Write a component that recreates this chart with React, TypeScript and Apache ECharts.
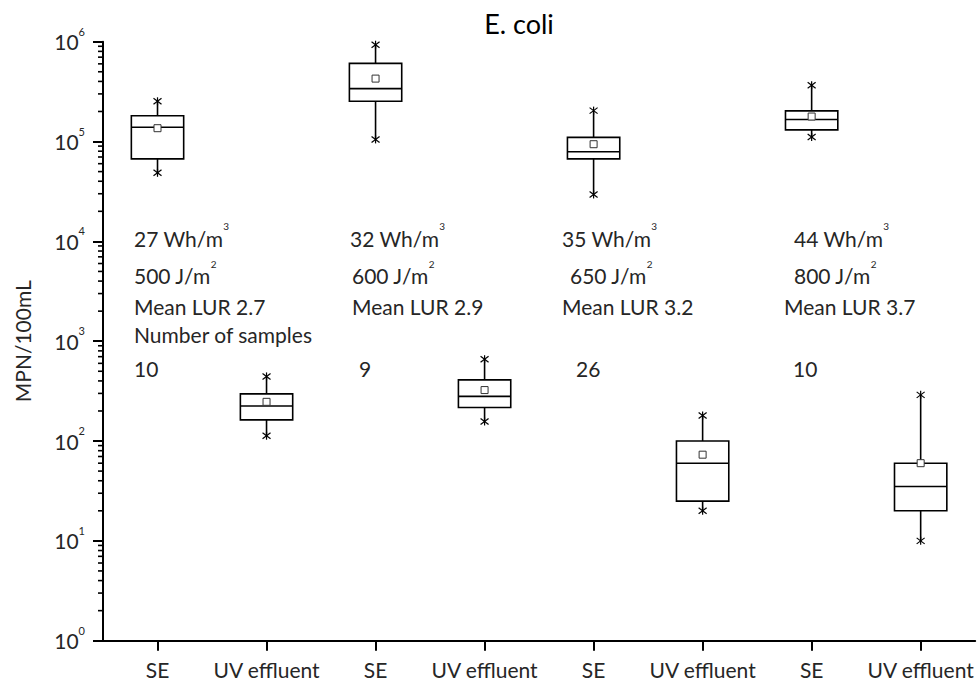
import React, { useEffect, useRef } from 'react';
import * as echarts from 'echarts';

// ---------- data ----------
const categories = ['SE', 'UV effluent', 'SE', 'UV effluent', 'SE', 'UV effluent', 'SE', 'UV effluent'];
const lowerValues = [48600, 113, 105000, 157, 29500, 20, 111000, 10];
const q1Values = [67000, 163, 253000, 217, 67000, 25, 131000, 20];
const medianValues = [139000, 224, 339000, 280, 79000, 60, 166000, 35];
const q3Values = [181000, 297, 607000, 410, 110000, 100, 203000, 60];
const upperValues = [253000, 444, 933000, 660, 204000, 180, 366000, 290];
const meanValues = [136000, 247, 427000, 324, 94000, 73, 178000, 60];

const energyLabels = ['27', '32', '35', '44'];
const doseLabels = ['500', '600', '650', '800'];
const lurLabels = ['2.7', '2.9', '3.2', '3.7'];
const sampleCounts = ['10', '9', '26', '10'];

// minor tick positions of the log axis (2..9 × 10^k)
const minorTickMantissas = [2, 3, 4, 5, 6, 7, 8, 9];
const minorTickDecades = [1, 10, 100, 1000, 10000, 100000];

// ---------- layout ----------
const FONT = 'Lato, "Open Sans", sans-serif';
const TEXT_COLOR = '#262626';
const ANNO_SIZE = 21;
const row1X = [134, 350, 562, 794];
const row2X = [134, 352, 570, 794];
const row3X = [134, 352, 562, 784];
const row5X = [134, 359, 576, 793];
const rowY = [238, 275.5, 306, 334.5, 368];

const supRich = (size: number) => ({
  m: { fontSize: size, fontFamily: FONT, fontWeight: 400, fill: TEXT_COLOR, lineHeight: 34 },
  s: { fontSize: 10, fontFamily: FONT, fontWeight: 400, fill: TEXT_COLOR, lineHeight: 12, verticalAlign: 'top' },
});

function annoText(x: number, y: number, text: string) {
  return {
    type: 'text',
    x,
    y,
    silent: true,
    style: {
      text,
      rich: supRich(ANNO_SIZE),
      fontSize: ANNO_SIZE,
      fontFamily: FONT,
      fill: TEXT_COLOR,
      align: 'left',
      verticalAlign: 'middle',
    },
  };
}

export default function App() {
  const ref = useRef<HTMLDivElement>(null);

  useEffect(() => {
    if (!ref.current) return;
    const chart = echarts.init(ref.current, undefined, { renderer: 'svg' });

    const boxData = categories.map((_, i) => [
      i,
      lowerValues[i],
      q1Values[i],
      medianValues[i],
      q3Values[i],
      upperValues[i],
      meanValues[i],
    ]);

    const minorTickData: number[][] = [];
    minorTickDecades.forEach((d) => minorTickMantissas.forEach((m) => minorTickData.push([0, m * d])));

    const graphics: any[] = [];
    graphics.push({
      type: 'text',
      x: 519,
      y: 23,
      silent: true,
      style: {
        text: 'E. coli',
        fontSize: 27,
        fontFamily: FONT,
        fill: '#000',
        align: 'center',
        verticalAlign: 'middle',
      },
    });
    for (let c = 0; c < 4; c++) {
      graphics.push(annoText(row1X[c], rowY[0], `{m|${energyLabels[c]} Wh/m}{s|3}`));
      graphics.push(annoText(row2X[c], rowY[1], `{m|${doseLabels[c]} J/m}{s|2}`));
      graphics.push(annoText(row3X[c], rowY[2], `{m|Mean LUR ${lurLabels[c]}}`));
      graphics.push(annoText(row5X[c], rowY[4], `{m|${sampleCounts[c]}}`));
    }
    graphics.push(annoText(row1X[0], rowY[3], '{m|Number of samples}'));

    const option: any = {
      animation: false,
      backgroundColor: '#fff',
      grid: { left: 103, right: 0, top: 41.7, bottom: 41.3, containLabel: false },
      xAxis: {
        type: 'category',
        data: categories,
        boundaryGap: true,
        axisLine: { show: true, lineStyle: { color: '#000', width: 2 } },
        axisTick: { show: true, alignWithLabel: true, interval: 0, length: 10, lineStyle: { color: '#000', width: 2 } },
        axisLabel: { interval: 0, color: TEXT_COLOR, fontSize: 21, fontFamily: FONT, margin: 18 },
        splitLine: { show: false },
      },
      yAxis: {
        type: 'log',
        logBase: 10,
        min: 1,
        max: 1000000,
        splitNumber: 6,
        name: 'MPN/100mL',
        nameLocation: 'middle',
        nameGap: 70,
        nameRotate: 90,
        nameTextStyle: { color: TEXT_COLOR, fontSize: 21, fontFamily: FONT },
        axisLine: { show: true, onZero: false, lineStyle: { color: '#000', width: 2 } },
        axisTick: { show: true, inside: false, length: 10, lineStyle: { color: '#000', width: 2 } },
        minorTick: { show: false },
        splitLine: { show: false },
        axisLabel: {
          margin: 18,
          formatter: (v: number) => `{b|10}{s|${Math.round(Math.log10(v))}}`,
          rich: {
            b: { color: TEXT_COLOR, fontSize: 21, fontFamily: FONT, lineHeight: 32 },
            s: { color: TEXT_COLOR, fontSize: 11, fontFamily: FONT, lineHeight: 12, verticalAlign: 'top' },
          },
        },
      },
      graphic: graphics,
      series: [
        {
          type: 'custom',
          name: 'minor ticks',
          silent: true,
          clip: false,
          z: 10,
          data: minorTickData,
          encode: { x: 0, y: 1 },
          renderItem: (params: any, api: any) => {
            const p = api.coord([api.value(0), api.value(1)]);
            const band = params.coordSys.width / categories.length;
            const x0 = p[0] - band / 2;
            return {
              type: 'line',
              shape: { x1: x0 - 5, y1: p[1], x2: x0, y2: p[1] },
              style: { stroke: '#000', lineWidth: 1.6 },
            };
          },
        },
        {
          type: 'custom',
          name: 'E. coli',
          silent: true,
          clip: false,
          data: boxData,
          encode: { x: 0, y: [1, 2, 3, 4, 5, 6] },
          renderItem: (params: any, api: any) => {
            const idx = api.value(0);
            const lo = api.coord([idx, api.value(1)]);
            const q1 = api.coord([idx, api.value(2)]);
            const med = api.coord([idx, api.value(3)]);
            const q3 = api.coord([idx, api.value(4)]);
            const hi = api.coord([idx, api.value(5)]);
            const mean = api.coord([idx, api.value(6)]);
            const cx = lo[0];
            const band = params.coordSys.width / categories.length;
            const bw = band * 0.48;
            const ls = { stroke: '#000', lineWidth: 1.6, fill: 'none' };
            const star = (y: number) => {
              const h = 4;
              return [
                { type: 'line', shape: { x1: cx, y1: y - h, x2: cx, y2: y + h }, style: { stroke: '#000', lineWidth: 1.2 } },
                { type: 'line', shape: { x1: cx - h, y1: y - h + 1, x2: cx + h, y2: y + h - 1 }, style: { stroke: '#000', lineWidth: 1.2 } },
                { type: 'line', shape: { x1: cx - h, y1: y + h - 1, x2: cx + h, y2: y - h + 1 }, style: { stroke: '#000', lineWidth: 1.2 } },
              ];
            };
            return {
              type: 'group',
              children: [
                { type: 'line', shape: { x1: cx, y1: hi[1], x2: cx, y2: q3[1] }, style: ls },
                { type: 'line', shape: { x1: cx, y1: q1[1], x2: cx, y2: lo[1] }, style: ls },
                { type: 'rect', shape: { x: cx - bw / 2, y: q3[1], width: bw, height: q1[1] - q3[1] }, style: { stroke: '#000', lineWidth: 1.6, fill: '#fff' } },
                { type: 'line', shape: { x1: cx - bw / 2, y1: med[1], x2: cx + bw / 2, y2: med[1] }, style: ls },
                ...star(hi[1]),
                ...star(lo[1]),
                { type: 'rect', shape: { x: cx - 3.5, y: mean[1] - 3.5, width: 7, height: 7 }, style: { stroke: '#333', lineWidth: 1, fill: '#fff' } },
              ],
            };
          },
        },
      ],
    };

    chart.setOption(option);
    return () => chart.dispose();
  }, []);

  return (
    <div
      ref={ref}
      style={{ position: 'fixed', left: 0, top: 0, width: 977, height: 682, background: '#fff' }}
    />
  );
}
